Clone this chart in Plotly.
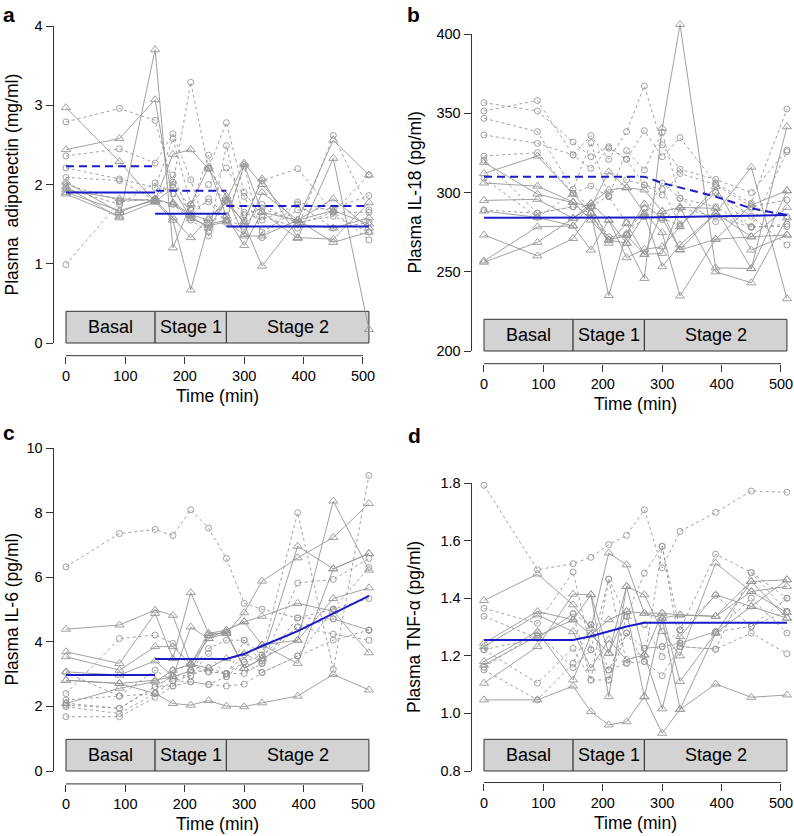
import plotly.graph_objects as go

W, H = 794, 836
T = [0, 90, 150, 180, 210, 240, 270, 300, 330, 390, 450, 510]
X_TICKS = [0, 100, 200, 300, 400, 500]

# ---------------- panel a : adiponectin (mg/ml) ----------------
a_tri = [
    [2.97, 2.29, 1.78, 1.55, 0.67, 1.50, 1.55, 2.25, 1.65, 1.55, 1.67, 1.50],
    [2.44, 2.58, 3.07, 1.77, 1.62, 1.55, 1.82, 1.50, 0.97, 1.55, 2.56, 2.12],
    [1.97, 1.58, 3.70, 1.20, 1.75, 2.22, 1.60, 1.23, 1.65, 1.32, 2.33, 0.17],
    [1.93, 1.82, 1.80, 2.38, 2.44, 2.20, 1.85, 1.35, 1.35, 1.55, 1.27, 1.40],
    [1.90, 1.67, 1.80, 1.58, 1.33, 1.57, 1.77, 1.53, 2.07, 1.33, 1.31, 1.77],
    [1.88, 1.60, 1.78, 1.96, 1.57, 1.48, 1.53, 1.37, 1.90, 1.55, 1.82, 1.45],
    [2.03, 1.65, 1.82, 1.75, 1.60, 1.45, 1.80, 2.27, 2.00, 1.50, 1.45, 1.58],
]
a_cir = [
    [2.79, 2.96, 2.81, 2.00, 3.29, 2.20, 2.78, 1.90, 1.60, 1.45, 2.62, 1.68],
    [2.36, 2.45, 2.27, 2.64, 2.06, 1.35, 2.49, 1.55, 2.05, 2.20, 1.65, 2.12],
    [2.21, 2.07, 1.96, 2.58, 1.75, 2.00, 2.21, 1.85, 1.40, 1.68, 1.70, 1.86],
    [2.09, 2.05, 1.80, 2.12, 1.60, 1.82, 1.60, 2.23, 1.33, 1.78, 1.66, 1.30],
    [0.99, 1.78, 1.82, 2.03, 1.70, 2.37, 1.55, 1.47, 1.75, 1.50, 1.65, 1.65],
    [2.00, 1.80, 1.80, 1.75, 1.55, 1.40, 1.80, 1.65, 1.55, 1.75, 1.45, 1.52],
    [1.95, 1.75, 2.02, 1.88, 1.68, 1.78, 1.52, 1.62, 1.70, 1.52, 1.60, 1.40],
]
a_mean_solid_x = [0, 150, None, 150, 270, None, 270, 510]
a_mean_solid_y = [1.90, 1.90, None, 1.63, 1.63, None, 1.47, 1.47]
a_mean_dash_x = [0, 150, None, 152, 270, None, 270, 510]
a_mean_dash_y = [2.23, 2.23, None, 1.92, 1.92, None, 1.73, 1.73]

# ---------------- panel b : IL-18 (pg/ml) ----------------
b_tri = [
    [319, 299, 293.6, 291, 313, 303, 301.6, 288, 290.6, 290, 252, 301],
    [312, 323, 299, 287, 235, 274, 292.7, 283.7, 264, 287, 316, 233],
    [306, 304, 294, 282.6, 270, 268, 245.8, 340.5, 406, 252.5, 252, 341.5],
    [295, 295.7, 283.7, 293, 301.6, 303, 287, 274.7, 234.7, 270.5, 272, 290.6],
    [288.3, 284.3, 278.9, 263.7, 282.6, 258.9, 264.1, 265.8, 278.4, 303.7, 263.7, 273.2],
    [273.2, 260, 271, 286.9, 268, 280.5, 261, 261.6, 290.6, 250, 243, 284],
    [256.8, 278.4, 278.9, 293, 282.6, 268, 286, 253.2, 266.9, 287, 272.1, 273.2],
    [256, 268.6, 283.7, 291, 270, 273, 261, 288.1, 263.7, 270.5, 292, 301.2],
]
b_cir = [
    [356.7, 351.4, 331.9, 322.6, 328.9, 320.9, 339, 322.6, 334.6, 305.8, 293.2, 352.7],
    [351.4, 358, 323.7, 335.9, 320.9, 338.4, 367.2, 330, 314.6, 308.3, 299.9, 326.8],
    [346.8, 338.4, 302, 331.4, 297.4, 326.4, 314.2, 338, 296.3, 291, 278.4, 325.8],
    [336.3, 331, 323.7, 315.2, 328, 320.9, 304.7, 298.4, 312, 305, 291, 295.3],
    [323, 325.1, 299.5, 304.1, 297.4, 281, 284.8, 306, 296.3, 281.6, 290, 284.8],
    [320.5, 286.9, 291, 291, 272, 273.2, 290, 284, 279, 300, 278.4, 278.5],
    [309, 284.3, 299.5, 291, 298, 308, 304.7, 302, 280, 300, 285, 266.9],
    [289, 286.9, 291, 287, 270, 273.2, 285, 283, 290, 285, 278, 280],
]
b_mean_solid_x = [0, 150, 270, 510]
b_mean_solid_y = [284, 284, 284.3, 285.8]
b_mean_dash_x = [0, 150, 270, 300, 330, 390, 450, 510]
b_mean_dash_y = [310, 310, 310, 306, 303, 297.4, 290, 285.8]

# ---------------- panel c : IL-6 (pg/ml) ----------------
c_tri = [
    [2.81, 2.71, 2.40, 2.09, 2.04, 2.18, 2.01, 1.99, 2.11, 2.32, 2.99, 2.51],
    [4.39, 4.52, 4.98, 4.82, 3.31, 4.26, 4.36, 4.62, 3.90, 3.33, 6.26, 6.73],
    [3.69, 3.33, 4.88, 3.48, 5.52, 4.26, 4.26, 4.90, 5.88, 6.60, 7.23, 8.28],
    [3.54, 3.12, 3.85, 3.85, 3.31, 4.10, 4.36, 4.62, 4.79, 5.19, 4.95, 3.66],
    [3.07, 2.97, 3.41, 2.92, 4.46, 4.10, 4.26, 3.18, 3.48, 6.96, 6.26, 6.73],
    [2.09, 2.56, 2.76, 3.12, 3.31, 3.18, 3.48, 3.64, 3.90, 4.05, 8.36, 6.22],
    [2.81, 2.71, 2.81, 2.92, 3.10, 4.20, 4.30, 3.18, 3.48, 4.05, 5.34, 5.67],
]
c_cir = [
    [6.32, 7.35, 7.48, 7.29, 8.09, 7.52, 6.58, 5.19, 5.01, 4.74, 4.71, 4.36],
    [2.40, 4.10, 4.21, 3.95, 3.12, 3.79, 4.05, 4.05, 3.59, 8.00, 3.15, 9.15],
    [2.20, 2.32, 3.12, 2.79, 2.76, 2.68, 2.63, 2.69, 3.05, 3.56, 4.05, 4.36],
    [2.04, 1.94, 2.61, 2.63, 3.12, 3.07, 3.02, 3.02, 3.33, 5.82, 5.93, 6.58],
    [1.99, 1.78, 2.40, 2.79, 2.95, 3.64, 2.92, 3.38, 3.59, 4.46, 4.24, 4.05],
    [1.68, 1.68, 2.28, 2.63, 2.76, 2.68, 2.92, 4.05, 3.33, 4.74, 5.01, 6.30],
    [3.05, 2.32, 2.40, 3.12, 3.30, 3.07, 3.02, 3.38, 3.05, 3.56, 5.01, 5.34],
    [2.10, 1.94, 2.61, 2.95, 2.95, 3.20, 3.00, 3.60, 3.40, 4.46, 4.71, 4.36],
]
c_mean_x = [0, 150, None, 150, 270, 300, 330, 390, 450, 510]
c_mean_y = [2.97, 2.97, None, 3.47, 3.47, 3.62, 3.87, 4.33, 4.87, 5.42]

# ---------------- panel d : TNF-alpha (pg/ml) ----------------
d_tri = [
    [1.047, 1.047, 1.095, 1.006, 0.960, 0.971, 1.058, 0.931, 1.014, 1.102, 1.056, 1.064],
    [1.392, 1.484, 1.377, 1.296, 1.557, 1.516, 1.348, 1.331, 1.342, 1.337, 1.458, 1.464],
    [1.105, 1.232, 1.414, 1.412, 1.058, 1.441, 1.412, 1.284, 1.200, 1.522, 1.423, 1.441],
    [1.244, 1.354, 1.325, 1.273, 1.325, 1.354, 1.348, 1.348, 1.111, 1.279, 1.458, 1.331],
    [1.232, 1.342, 1.284, 1.157, 1.255, 1.186, 1.203, 1.016, 1.267, 1.412, 1.371, 1.464],
    [1.180, 1.284, 1.116, 1.273, 1.209, 1.441, 1.203, 1.348, 1.342, 1.337, 1.423, 1.350],
    [1.168, 1.269, 1.325, 1.412, 1.209, 1.354, 1.058, 1.331, 1.014, 1.279, 1.371, 1.331],
]
d_cir = [
    [1.792, 1.499, 1.520, 1.542, 1.586, 1.618, 1.707, 1.505, 1.632, 1.698, 1.772, 1.768],
    [1.365, 1.313, 1.491, 1.221, 1.466, 1.337, 1.487, 1.580, 1.290, 1.553, 1.489, 1.400],
    [1.337, 1.261, 1.346, 1.308, 1.151, 1.279, 1.226, 1.232, 1.244, 1.284, 1.302, 1.354],
    [1.221, 1.105, 1.226, 1.116, 1.466, 1.174, 1.180, 1.131, 1.232, 1.223, 1.279, 1.207],
    [1.151, 1.047, 1.174, 1.308, 1.116, 1.337, 1.308, 1.197, 1.244, 1.284, 1.400, 1.279],
    [1.160, 1.280, 1.159, 1.221, 1.151, 1.174, 1.226, 1.232, 1.290, 1.410, 1.302, 1.400],
    [1.221, 1.261, 1.346, 1.116, 1.116, 1.279, 1.180, 1.580, 1.232, 1.223, 1.489, 1.354],
]
d_mean_x = [0, 150, 180, 210, 240, 270, 510]
d_mean_y = [1.255, 1.255, 1.268, 1.285, 1.302, 1.315, 1.315]

STAGES = ["Basal", "Stage 1", "Stage 2"]
STAGE_EDGES = [0, 150, 270, 510]

# ---------------- layout geometry (pixels) ----------------
GRAY = "rgb(150,150,150)"
BLUE = "#1b1bc8"
AX = "#333333"
FONT = "Liberation Sans, Arial, Helvetica, sans-serif"

panels = [
    dict(letter="a", ylabel="Plasma  adiponectin (mg/ml)", tri=a_tri, cir=a_cir,
         yticks=[0, 1, 2, 3, 4], fmt="", x0px=66, ylo=0, yhi=4, pylo=343, pyhi=26,
         boxh=0.40, lpos=(9, 15), titlex=11),
    dict(letter="b", ylabel="Plasma IL-18 (pg/ml)", tri=b_tri, cir=b_cir,
         yticks=[200, 250, 300, 350, 400], fmt="", x0px=484, ylo=200, yhi=400, pylo=351, pyhi=34,
         boxh=20, lpos=(413, 15), titlex=414),
    dict(letter="c", ylabel="Plasma IL-6 (pg/ml)", tri=c_tri, cir=c_cir,
         yticks=[0, 2, 4, 6, 8, 10], fmt="", x0px=66, ylo=0, yhi=10, pylo=771, pyhi=448,
         boxh=0.98, lpos=(9, 433), titlex=11),
    dict(letter="d", ylabel="Plasma TNF-\u03b1 (pg/ml)", tri=d_tri, cir=d_cir,
         yticks=[0.8, 1.0, 1.2, 1.4, 1.6, 1.8], fmt=".1f", x0px=484, ylo=0.8, yhi=1.8, pylo=771, pyhi=483,
         boxh=0.11, lpos=(414, 436), titlex=414),
]
means = [
    [(a_mean_solid_x, a_mean_solid_y, "solid"), (a_mean_dash_x, a_mean_dash_y, "8px,5px")],
    [(b_mean_solid_x, b_mean_solid_y, "solid"), (b_mean_dash_x, b_mean_dash_y, "8px,5px")],
    [(c_mean_x, c_mean_y, "solid")],
    [(d_mean_x, d_mean_y, "solid")],
]

SX = 297 / 500.0  # px per minute

fig = go.Figure()
layout = dict(width=W, height=H, margin=dict(l=0, r=0, t=0, b=0),
              paper_bgcolor="white", plot_bgcolor="white", showlegend=False,
              font=dict(family=FONT, color="black"))
shapes, annotations = [], []

def px2x(p):
    return p / W

def py2y(p):
    return 1 - p / H

for i, p in enumerate(panels):
    n = i + 1
    xa = "x" if n == 1 else f"x{n}"
    ya = "y" if n == 1 else f"y{n}"
    xmin = -21
    xmax = 530.4 if p["x0px"] < 300 else (W - 0.5 - p["x0px"]) / SX
    dl = p["x0px"] + xmin * SX
    dr = p["x0px"] + xmax * SX
    sy = (p["pylo"] - p["pyhi"]) / (p["yhi"] - p["ylo"])
    ext = 0.04 * (p["yhi"] - p["ylo"])
    ymin, ymax = p["ylo"] - ext, p["yhi"] + ext
    pbot = p["pylo"] + ext * sy
    ptop = p["pyhi"] - ext * sy

    layout["xaxis" if n == 1 else f"xaxis{n}"] = dict(
        domain=[px2x(dl), px2x(dr)], range=[xmin, xmax], anchor=ya,
        showline=False, showgrid=False, zeroline=False, ticks="outside", ticklen=7,
        tickwidth=1, tickcolor=AX, tickvals=X_TICKS, tickfont=dict(size=14.5, family=FONT))
    layout["yaxis" if n == 1 else f"yaxis{n}"] = dict(
        domain=[py2y(pbot), py2y(ptop)], range=[ymin, ymax], anchor=xa,
        showline=False, showgrid=False, zeroline=False, ticks="outside", ticklen=7,
        tickwidth=1, tickcolor=AX, tickvals=p["yticks"], tickformat=p["fmt"],
        tickfont=dict(size=14.5, family=FONT))

    shapes.append(dict(type="line", xref="paper", yref="paper",
                       x0=px2x(p["x0px"]), x1=px2x(p["x0px"] + 500 * SX),
                       y0=py2y(pbot), y1=py2y(pbot), line=dict(color=AX, width=1)))
    shapes.append(dict(type="line", xref="paper", yref="paper",
                       x0=px2x(dl), x1=px2x(dl),
                       y0=py2y(p["pylo"]), y1=py2y(p["pyhi"]), line=dict(color=AX, width=1)))

    for k in range(3):
        shapes.append(dict(type="rect", xref=xa, yref=ya, layer="below",
                           x0=STAGE_EDGES[k], x1=STAGE_EDGES[k + 1],
                           y0=p["ylo"], y1=p["ylo"] + p["boxh"],
                           fillcolor="#d3d3d3", line=dict(color="#333333", width=1)))
        annotations.append(dict(xref=xa, yref=ya, x=(STAGE_EDGES[k] + STAGE_EDGES[k + 1]) / 2,
                                y=p["ylo"] + p["boxh"] / 2, text=STAGES[k], showarrow=False,
                                font=dict(size=18, family=FONT, color="black")))

    for s in p["tri"]:
        fig.add_trace(go.Scatter(x=T, y=s, xaxis=xa, yaxis=ya, mode="lines+markers",
                                 cliponaxis=False,
                                 line=dict(color=GRAY, width=0.9),
                                 marker=dict(symbol="triangle-up-open", size=8,
                                             color=GRAY, line=dict(width=0.9, color=GRAY))))
    for s in p["cir"]:
        fig.add_trace(go.Scatter(x=T, y=s, xaxis=xa, yaxis=ya, mode="lines+markers",
                                 cliponaxis=False,
                                 line=dict(color=GRAY, width=0.9, dash="3px,3px"),
                                 marker=dict(symbol="circle-open", size=6,
                                             color=GRAY, line=dict(width=0.9, color=GRAY))))
    for mx, my, dash in means[i]:
        fig.add_trace(go.Scatter(x=mx, y=my, xaxis=xa, yaxis=ya, mode="lines",
                                 line=dict(color=BLUE, width=2, dash=dash)))

    annotations.append(dict(xref="paper", yref="paper", x=px2x(p["titlex"]),
                            y=py2y((pbot + ptop) / 2), text=p["ylabel"], textangle=-90,
                            showarrow=False, font=dict(size=17.5, family=FONT, color="black"),
                            xanchor="center", yanchor="middle"))
    tx = (dl + dr) / 2 if p["x0px"] < 300 else (dl + p["x0px"] + 530 * SX) / 2
    annotations.append(dict(xref="paper", yref="paper", x=px2x(tx),
                            y=py2y(pbot + 40), text="Time (min)", showarrow=False,
                            font=dict(size=17.5, family=FONT, color="black"),
                            xanchor="center", yanchor="middle"))
    annotations.append(dict(xref="paper", yref="paper", x=px2x(p["lpos"][0]), y=py2y(p["lpos"][1]),
                            text=f"<b>{p['letter']}</b>", showarrow=False,
                            font=dict(size=21, family=FONT, color="black"),
                            xanchor="center", yanchor="middle"))

layout["shapes"] = shapes
layout["annotations"] = annotations
fig.update_layout(**layout)
fig.write_html("out.html", config={"displayModeBar": False},
               post_script="document.body.style.margin='0';document.body.style.overflow='hidden';")
